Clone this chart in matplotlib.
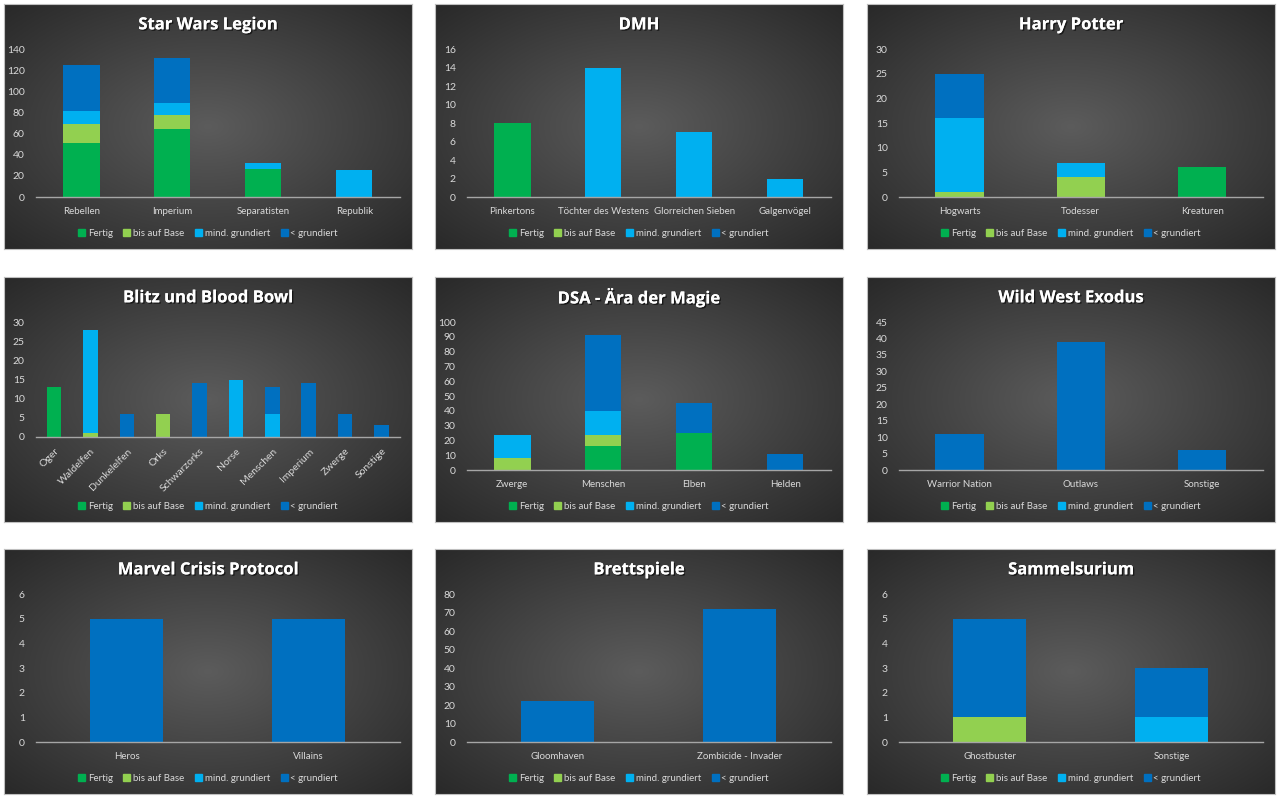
import numpy as np
import matplotlib
matplotlib.use('Agg')
import matplotlib.pyplot as plt
import matplotlib.patches as patches
import matplotlib.patheffects as pe

plt.rcParams['font.family'] = ['Lato', 'DejaVu Sans']

# --- DATA ---
SERIES = ["Fertig", "bis auf Base", "mind. grundiert", "< grundiert"]
COLORS = ["#00B050", "#92D050", "#00B0F0", "#0070C0"]

swl_cats = ["Rebellen", "Imperium", "Separatisten", "Republik"]
swl_fertig = [51, 64, 27, 0]
swl_base = [18, 14, 0, 0]
swl_mind = [12, 11, 5, 26]
swl_lt = [44, 43, 0, 0]

dmh_cats = ["Pinkertons", "Töchter des Westens", "Glorreichen Sieben", "Galgenvögel"]
dmh_fertig = [8, 0, 0, 0]
dmh_base = [0, 0, 0, 0]
dmh_mind = [0, 14, 7, 2]
dmh_lt = [0, 0, 0, 0]

hp_cats = ["Hogwarts", "Todesser", "Kreaturen"]
hp_fertig = [0, 0, 6]
hp_base = [1, 4, 0]
hp_mind = [15, 3, 0]
hp_lt = [9, 0, 0]

bb_cats = ["Oger", "Waldelfen", "Dunkelelfen", "Orks", "Schwarzorks", "Norse",
           "Menschen", "Imperium", "Zwerge", "Sonstige"]
bb_fertig = [13, 0, 0, 0, 0, 0, 0, 0, 0, 0]
bb_base = [0, 1, 0, 6, 0, 0, 0, 0, 0, 0]
bb_mind = [0, 27, 0, 0, 0, 15, 6, 0, 0, 0]
bb_lt = [0, 0, 6, 0, 14, 0, 7, 14, 6, 3]

dsa_cats = ["Zwerge", "Menschen", "Elben", "Helden"]
dsa_fertig = [0, 16, 25, 0]
dsa_base = [8, 8, 0, 0]
dsa_mind = [16, 16, 0, 0]
dsa_lt = [0, 51, 20, 11]

wwe_cats = ["Warrior Nation", "Outlaws", "Sonstige"]
wwe_fertig = [0, 0, 0]
wwe_base = [0, 0, 0]
wwe_mind = [0, 0, 0]
wwe_lt = [11, 39, 6]

mcp_cats = ["Heros", "Villains"]
mcp_fertig = [0, 0]
mcp_base = [0, 0]
mcp_mind = [0, 0]
mcp_lt = [5, 5]

bs_cats = ["Gloomhaven", "Zombicide - Invader"]
bs_fertig = [0, 0]
bs_base = [0, 0]
bs_mind = [0, 0]
bs_lt = [22, 72]

sam_cats = ["Ghostbuster", "Sonstige"]
sam_fertig = [0, 0]
sam_base = [1, 0]
sam_mind = [0, 1]
sam_lt = [4, 2]

CHARTS = [
    ("Star Wars Legion", swl_cats, [swl_fertig, swl_base, swl_mind, swl_lt], 140, 20),
    ("DMH", dmh_cats, [dmh_fertig, dmh_base, dmh_mind, dmh_lt], 16, 2),
    ("Harry Potter", hp_cats, [hp_fertig, hp_base, hp_mind, hp_lt], 30, 5),
    ("Blitz und Blood Bowl", bb_cats, [bb_fertig, bb_base, bb_mind, bb_lt], 30, 5),
    ("DSA - Ära der Magie", dsa_cats, [dsa_fertig, dsa_base, dsa_mind, dsa_lt], 100, 10),
    ("Wild West Exodus", wwe_cats, [wwe_fertig, wwe_base, wwe_mind, wwe_lt], 45, 5),
    ("Marvel Crisis Protocol", mcp_cats, [mcp_fertig, mcp_base, mcp_mind, mcp_lt], 6, 1),
    ("Brettspiele", bs_cats, [bs_fertig, bs_base, bs_mind, bs_lt], 80, 10),
    ("Sammelsurium", sam_cats, [sam_fertig, sam_base, sam_mind, sam_lt], 6, 1),
]

W, H = 1280, 800
fig = plt.figure(figsize=(W / 100, H / 100), dpi=100)
fig.patch.set_facecolor('white')

COL_X = [4, 435, 867]
ROW_Y = [4, 277, 549]
PW, PH = 408, 245

# radial gradient background
yy, xx = np.mgrid[-1:1:200j, -1:1:300j]
rr = np.sqrt(xx ** 2 + yy ** 2) / np.sqrt(2)
grad = np.clip(rr, 0, 1)
c_in = np.array([0.36, 0.36, 0.36])
c_out = np.array([0.16, 0.16, 0.16])
bg_img = c_in[None, None, :] * (1 - grad[..., None]) + c_out[None, None, :] * grad[..., None]

TXT = '#D9D9D9'

for i, (title, cats, vals, ymax, step) in enumerate(CHARTS):
    r, c = divmod(i, 3)
    x0 = COL_X[c] / W
    y0 = 1 - (ROW_Y[r] + PH) / H
    bg = fig.add_axes([x0, y0, PW / W, PH / H])
    bg.imshow(bg_img, extent=[0, 1, 0, 1], aspect='auto', zorder=0)
    bg.set_xlim(0, 1); bg.set_ylim(0, 1)
    bg.set_xticks([]); bg.set_yticks([])
    for s in bg.spines.values():
        s.set_color('#BFBFBF'); s.set_linewidth(0.8)

    bg.text(0.5, 0.917, title, ha='center', va='center', fontsize=12, fontweight='bold',
            family=['Open Sans', 'DejaVu Sans'], color='white', transform=bg.transAxes,
            path_effects=[pe.withSimplePatchShadow(offset=(1, -1), shadow_rgbFace='black', alpha=0.6), pe.Normal()])

    rotated = len(cats) > 6
    bottom = 0.347 if rotated else 0.212
    ax = fig.add_axes([x0 + 0.078 * PW / W, y0 + bottom * PH / H,
                       0.892 * PW / W, (0.816 - bottom) * PH / H])
    ax.patch.set_alpha(0)
    x = np.arange(len(cats))
    base = np.zeros(len(cats))
    for name, col, v in zip(SERIES, COLORS, vals):
        ax.bar(x, v, 0.4, bottom=base, color=col, label=name, zorder=3)
        base += np.array(v)
    ax.set_xlim(-0.5, len(cats) - 0.5)
    ax.set_ylim(0, ymax)
    ax.set_yticks(np.arange(0, ymax + step / 2, step))
    ax.set_xticks(x)
    if rotated:
        ax.set_xticklabels(cats, rotation=45, ha='right', rotation_mode='anchor', fontsize=7.5)
    else:
        ax.set_xticklabels(cats, fontsize=7)
    ax.tick_params(axis='y', colors=TXT, labelsize=7.5, length=0, pad=8)
    ax.tick_params(axis='x', colors=TXT, length=0, pad=7)
    for s in ['top', 'right', 'left']:
        ax.spines[s].set_visible(False)
    ax.spines['bottom'].set_color('#A6A6A6')
    ax.spines['bottom'].set_linewidth(1.0)
    ax.spines['bottom'].set_zorder(4)

    handles = [patches.Patch(color=col, label=name) for name, col in zip(SERIES, COLORS)]
    bg.legend(handles=handles, loc='center', bbox_to_anchor=(0.5, 0.065), ncol=4,
              frameon=False, fontsize=7, labelcolor=TXT, handlelength=0.7, handleheight=0.7,
              handletextpad=0.3, columnspacing=1.1)

fig.savefig('out.png', dpi=100)
